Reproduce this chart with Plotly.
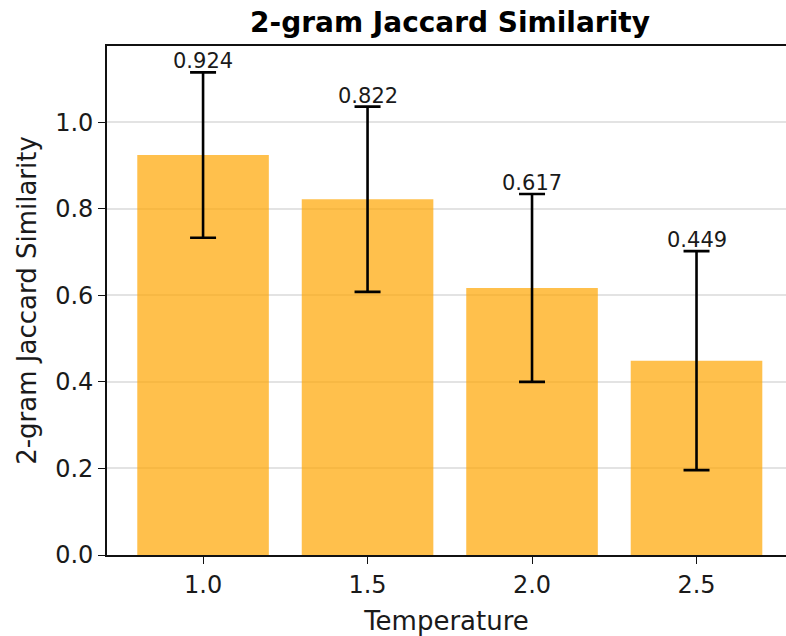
import plotly.graph_objects as go

temperatures = [1.0, 1.5, 2.0, 2.5]
similarity = [0.924, 0.822, 0.617, 0.449]
errors = [0.191, 0.214, 0.217, 0.253]
y_ticks = [0.0, 0.2, 0.4, 0.6, 0.8, 1.0]

FONT = "DejaVu Sans"
TXT = "#1a1a1a"

fig = go.Figure()
fig.add_trace(go.Bar(
    x=temperatures, y=similarity, width=0.4,
    marker=dict(color="rgba(255,165,0,0.7)", line=dict(width=0)),
    error_y=dict(type="data", array=errors, visible=True, color="black",
                 thickness=2.6, width=13),
))

for t, v, e in zip(temperatures, similarity, errors):
    fig.add_annotation(x=t, y=v + e, text=f"{v:.3f}", showarrow=False,
                       xanchor="center", yanchor="bottom", yshift=-3,
                       font=dict(family=FONT, size=21, color=TXT))

fig.update_layout(
    width=786, height=636,
    margin=dict(l=107, r=0, t=46, b=81),
    plot_bgcolor="white", paper_bgcolor="white",
    showlegend=False,
    title=dict(text="<b>2-gram Jaccard Similarity</b>", x=0.5725, xanchor="center",
               y=1 - 22 / 636, yanchor="middle",
               font=dict(family=FONT, size=28, color="black")),
    font=dict(family=FONT, color=TXT),
)
fig.update_xaxes(
    range=[0.708, 2.772], tickvals=temperatures,
    ticktext=[f"{t:.1f}" for t in temperatures],
    showline=True, linecolor="#111", linewidth=1.6, mirror=True,
    ticks="outside", ticklen=7, tickwidth=1.4, tickcolor="#111",
    showgrid=False, zeroline=False,
    tickfont=dict(family=FONT, size=24, color=TXT),
    title=dict(text="Temperature", font=dict(family=FONT, size=26, color=TXT), standoff=15),
)
fig.update_yaxes(
    range=[0, 1.176], tickvals=y_ticks, ticktext=[f"{v:.1f}" for v in y_ticks],
    showline=True, linecolor="#111", linewidth=1.6,
    ticks="outside", ticklen=7, tickwidth=1.4, tickcolor="#111",
    showgrid=True, gridcolor="rgba(176,176,176,0.35)", gridwidth=1.5,
    zeroline=False,
    tickfont=dict(family=FONT, size=24, color=TXT),
    title=dict(text="2-gram Jaccard Similarity", font=dict(family=FONT, size=26, color=TXT), standoff=11),
)

fig.write_html("out.html")
